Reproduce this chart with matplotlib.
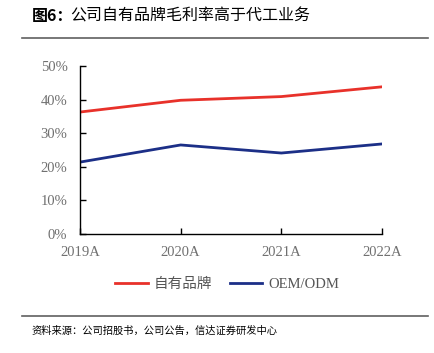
import matplotlib.pyplot as plt
from matplotlib.lines import Line2D

years = ["2019A", "2020A", "2021A", "2022A"]
own_brand = [36.3, 39.8, 40.9, 43.8]
oem_odm = [21.4, 26.5, 24.1, 26.8]
yticks = [0, 10, 20, 30, 40, 50]

cjk = ["Noto Sans CJK SC", "DejaVu Sans"]
serif = ["Liberation Serif", "Noto Sans CJK SC"]
plt.rcParams["font.family"] = serif

fig = plt.figure(figsize=(4.35, 3.53), dpi=100)
ax = fig.add_axes([80 / 435, 1 - 234 / 353, 302 / 435, 168 / 353])

x = range(len(years))
ax.plot(x, own_brand, color="#e8312a", lw=2, label="自有品牌")
ax.plot(x, oem_odm, color="#1c2f87", lw=2, label="OEM/ODM")

ax.set_xlim(0, len(years) - 1)
ax.set_ylim(0, 50)
ax.set_yticks(yticks)
ax.set_yticklabels([f"{v}%" for v in yticks])
ax.set_xticks(list(x))
ax.set_xticklabels(years)
for s in ["top", "right"]:
    ax.spines[s].set_visible(False)
for s in ["left", "bottom"]:
    ax.spines[s].set_linewidth(1.0)
ax.tick_params(direction="in", length=4, width=1, labelsize=10.5, labelcolor="#707070")
ax.tick_params(axis="x", pad=9)
ax.tick_params(axis="y", pad=9)

handles = [Line2D([], [], color="#e8312a", lw=2), Line2D([], [], color="#1c2f87", lw=2)]
leg = fig.legend(handles, ["自有品牌", "OEM/ODM"], loc="center", bbox_to_anchor=(227 / 435, 1 - 284 / 353),
                 ncol=2, frameon=False, fontsize=10.5, handlelength=2.25, columnspacing=1.2, handletextpad=0.4)
for t in leg.get_texts():
    t.set_color("#555555")
leg.get_texts()[0].set_family(cjk)

fig.text(32 / 435, 1 - 16 / 353, "图6：", fontsize=11.5, fontweight="bold", family=cjk, va="center")
fig.text(70 / 435, 1 - 16 / 353, "公司自有品牌毛利率高于代工业务", fontsize=11.5, family=cjk, va="center")
fig.add_artist(Line2D([22 / 435, 428 / 435], [1 - 38 / 353] * 2, color="#606060", lw=1.2))
fig.add_artist(Line2D([22 / 435, 428 / 435], [1 - 316 / 353] * 2, color="#606060", lw=1.2))
fig.text(32 / 435, 1 - 331 / 353, "资料来源：公司招股书，公司公告，信达证券研发中心", fontsize=7.4,
         family=cjk, style="italic", va="center")

fig.savefig("out.png", dpi=100)
